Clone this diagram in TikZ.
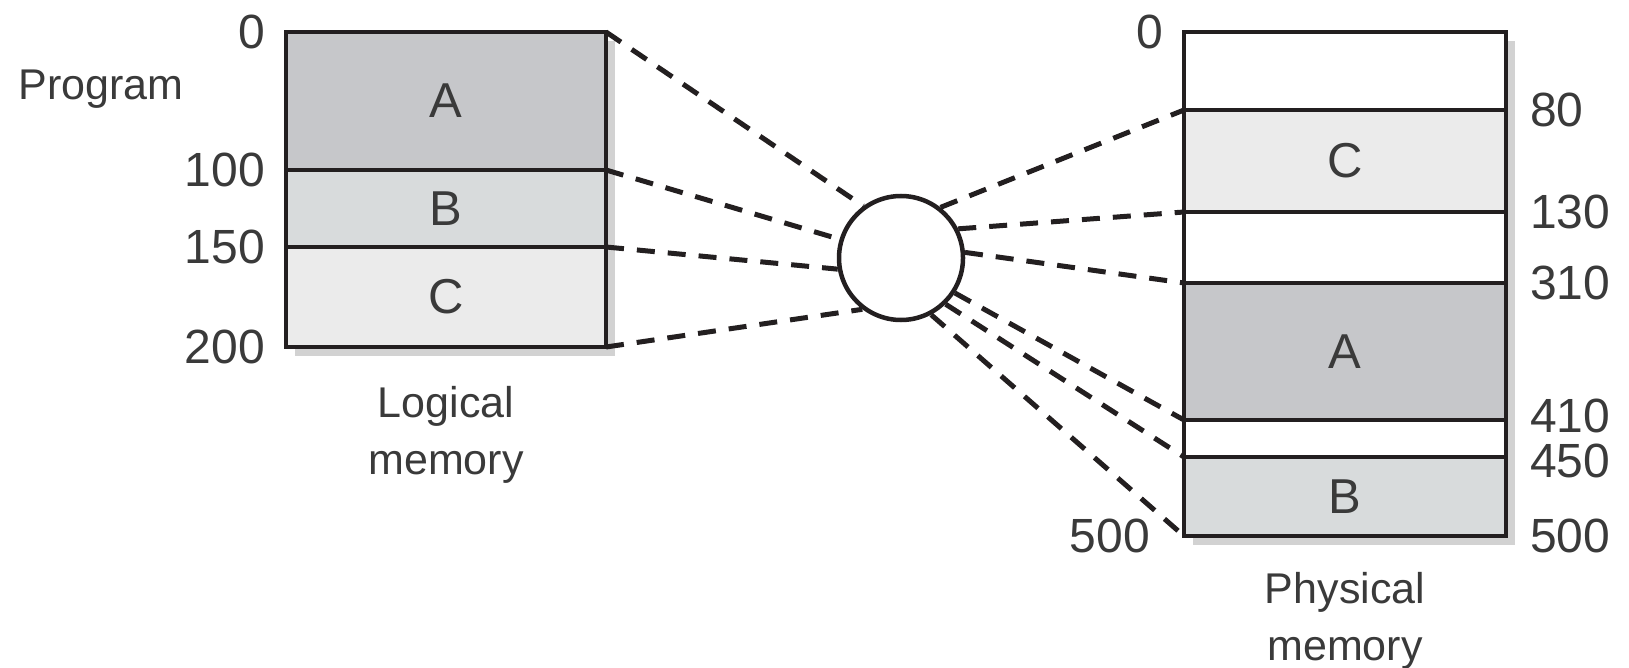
\documentclass[tikz,border=0pt]{standalone}
\usepackage{fontspec}
\setmainfont{Liberation Sans}
\usetikzlibrary{arrows.meta, positioning, shadows}

\definecolor{tinta}{HTML}{231F20}
\definecolor{texto}{HTML}{3A3A3A}
\definecolor{segA}{HTML}{C6C7CA}
\definecolor{segB}{HTML}{D8DBDC}
\definecolor{segC}{HTML}{EBEBEB}
\definecolor{sombra}{HTML}{D2D2D2}

\begin{document}
\begin{tikzpicture}[x=1pt, y=-1pt, node distance=0pt, >=Stealth, line width=4.5pt]
        % Estilos para segmentos, direcciones y rótulos
        \tikzstyle{seg} = [draw=tinta, rectangle, inner sep=0pt, outer sep=0pt, text=texto, font=\fontsize{49}{49}\selectfont, drop shadow={shadow xshift=9pt, shadow yshift=-9pt, fill=sombra, opacity=1}]
        \tikzstyle{addr} = [text=texto, inner sep=0pt, font=\fontsize{48}{48}\selectfont]
        \tikzstyle{caption} = [text=texto, inner sep=0pt, align=center, font=\fontsize{43}{57}\selectfont]
        \tikzstyle{link} = [draw=tinta, line width=5pt, dash pattern=on 18pt off 13pt]

        \useasboundingbox (0,0) rectangle (1629,668);

        % Memoria lógica
        \node [seg, fill=segA, minimum width=320pt, minimum height=138pt] (logA) at (446,101) {A};
        \node [seg, fill=segB, minimum width=320pt, minimum height=77pt, below=of logA] (logB) {B};
        \node [seg, fill=segC, minimum width=320pt, minimum height=100pt, below=of logB] (logC) {C};
        \node [caption, below=37pt of logC] (logCap) {Logical\\memory};
        \node [caption, anchor=base] (prog) at (101,100) {Program};

        % Memoria física
        \node [seg, fill=white, minimum width=322pt, minimum height=78pt] (phyTop) at (1345,71) {};
        \node [seg, fill=segC, minimum width=322pt, minimum height=102pt, below=of phyTop] (phyC) {C};
        \node [seg, fill=white, minimum width=322pt, minimum height=71pt, below=of phyC] (phyGap1) {};
        \node [seg, fill=segA, minimum width=322pt, minimum height=137pt, below=of phyGap1] (phyA) {A};
        \node [seg, fill=white, minimum width=322pt, minimum height=37pt, below=of phyA] (phyGap2) {};
        \node [seg, fill=segB, minimum width=322pt, minimum height=79pt, below=of phyGap2] (phyB) {B};
        \node [caption, below=34pt of phyB] (phyCap) {Physical\\memory};

        % Direcciones
        \node [addr, left=19pt of logA.north west] (l0) {0};
        \node [addr, left=19pt of logA.south west] (l100) {100};
        \node [addr, left=19pt of logB.south west] (l150) {150};
        \node [addr, left=19pt of logC.south west] (l200) {200};
        \node [addr, left=19pt of phyTop.north west] (p0) {0};
        \node [addr, left=32pt of phyB.south west] (p500l) {500};
        \node [addr, right=22pt of phyTop.south east] (p80) {80};
        \node [addr, right=22pt of phyC.south east] (p130) {130};
        \node [addr, right=22pt of phyGap1.south east] (p310) {310};
        \node [addr, right=22pt of phyA.south east, yshift=4pt] (p410) {410};
        \node [addr, right=22pt of phyGap2.south east, yshift=-4pt] (p450) {450};
        \node [addr, right=22pt of phyB.south east] (p500r) {500};

        % Tabla de correspondencia
        \node [draw=tinta, circle, fill=white, inner sep=0pt, minimum size=124pt] (mapper) at (901,258) {};

        % Conexiones
        \draw [link] (logA.north east) -- (mapper.126);
        \draw [link] (logA.south east) -- (mapper.163);
        \draw [link] (logB.south east) -- (mapper.190);
        \draw [link] (logC.south east) -- (mapper.233);
        \draw [link] (mapper.52) -- (phyTop.south west);
        \draw [link] (mapper.27) -- (phyC.south west);
        \draw [link] (mapper.5) -- (phyGap1.south west);
        \draw [link] (mapper.-33) -- (phyA.south west);
        \draw [link] (mapper.-46) -- (phyGap2.south west);
        \draw [link] (mapper.-62) -- (phyB.south west);
      \end{tikzpicture}
\end{document}
